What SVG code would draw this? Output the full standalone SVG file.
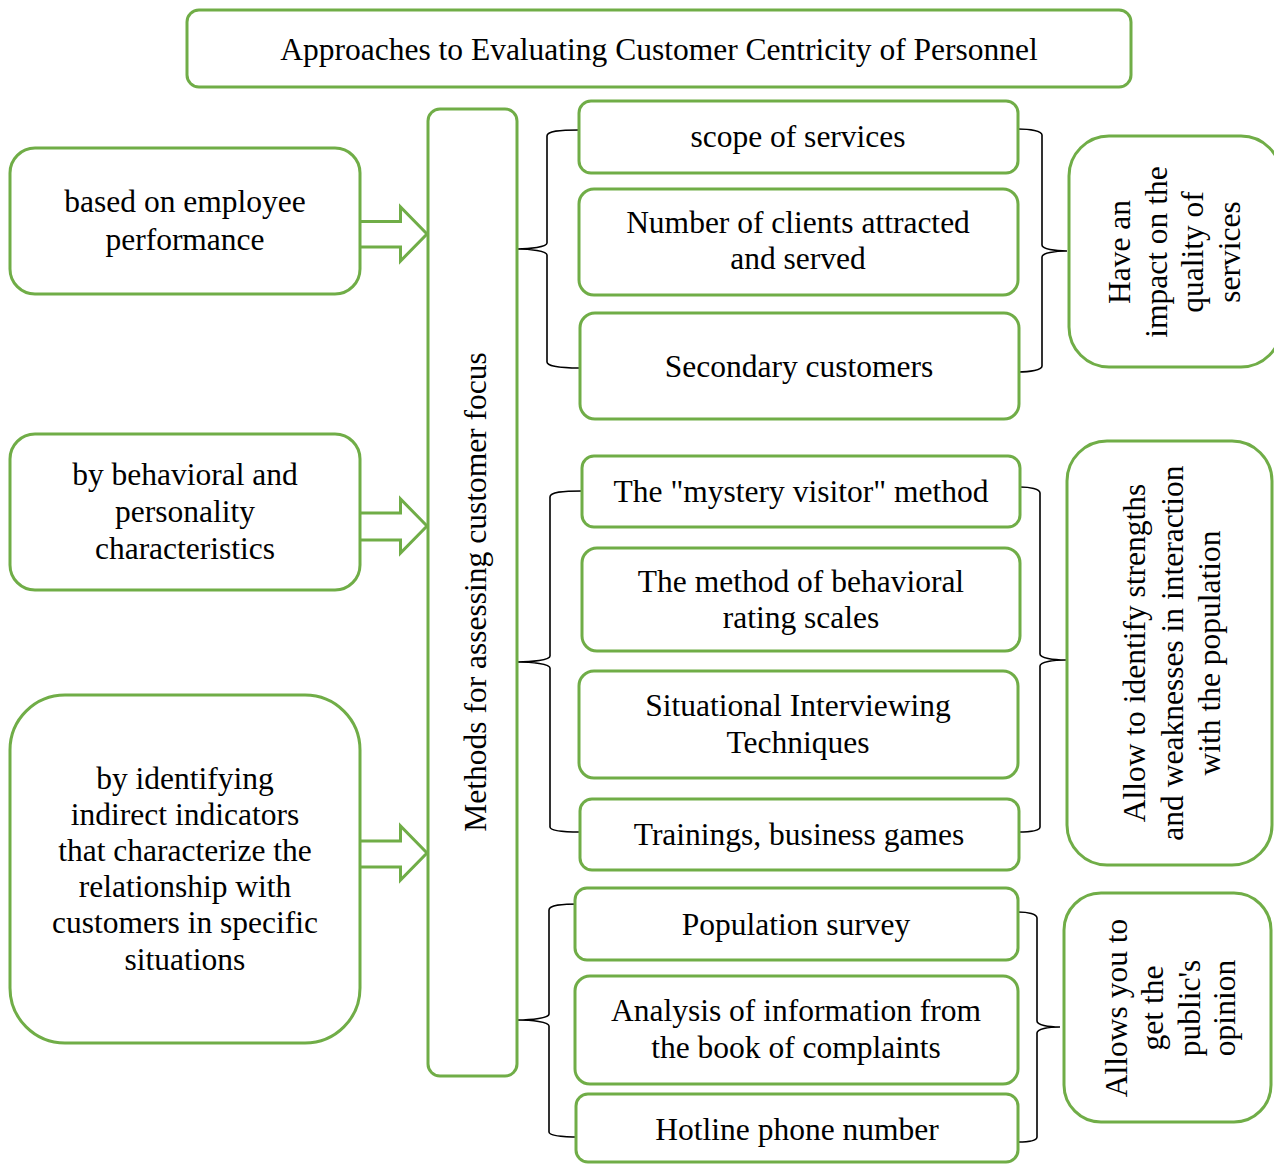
<svg xmlns="http://www.w3.org/2000/svg" width="1274" height="1164" viewBox="0 0 1274 1164">
<style>
.box{fill:#fff;stroke:#70AD47;stroke-width:3}
.arr{fill:#fff;stroke:#70AD47;stroke-width:3;stroke-linejoin:miter}
.br{fill:none;stroke:#000;stroke-width:1.6}
text{font-family:"Liberation Serif","Times New Roman",serif;font-size:31.5px;fill:#000;text-anchor:middle}
</style>
<rect width="1274" height="1164" fill="#fff"/>
<g id="connectors">
<path class="br" d="M579,130 C560,130 547,131 547,136 L547,243 C547,247 530,249 517,249 C530,249 547,251 547,255 L547,362 C547,366 560,368 579,368"/>
<path class="br" d="M1018,129 C1030,129 1042,131 1042,135 L1042,245 C1042,249 1055,251 1067,251 C1055,251 1042,253 1042,257 L1042,366 C1042,370 1030,372 1018,372"/>
<path class="br" d="M582,491 C563,491 550,492 550,497 L550,656 C550,660 532,662 517,662 C532,662 550,664 550,668 L550,827 C550,831 563,832 580,832"/>
<path class="br" d="M1020,487 C1030,487 1040,489 1040,493 L1040,654 C1040,658 1053,660 1066,660 C1053,660 1040,662 1040,666 L1040,827 C1040,831 1030,832 1018,832"/>
<path class="br" d="M580,904 C562,904 549,905 549,910 L549,1014 C549,1018 532,1020 517,1020 C532,1020 549,1022 549,1026 L549,1132 C549,1136 562,1137 580,1137"/>
<path class="br" d="M1018,912 C1028,912 1037,914 1037,918 L1037,1021 C1037,1025 1048,1027 1060,1027 C1048,1027 1037,1029 1037,1033 L1037,1137 C1037,1141 1028,1142 1018,1142"/>
<polyline class="arr" points="359,221.5 400.5,221.5 400.5,207 427,234 400.5,261 400.5,247 359,247"/>
<polyline class="arr" points="359,513 400.5,513 400.5,499 427,526 400.5,553 400.5,540 359,540"/>
<polyline class="arr" points="359,841 400.5,841 400.5,826 427,853 400.5,880 400.5,867 359,867"/>
</g>
<g id="title"><rect class="box" x="187" y="10" width="944" height="77" rx="12"/><text x="659" y="60">Approaches to Evaluating Customer Centricity of Personnel</text></g>
<g id="left1"><rect class="box" x="10" y="148" width="350" height="146" rx="25"/><text x="185" y="212">based on employee</text><text x="185" y="250">performance</text></g>
<g id="left2"><rect class="box" x="10" y="434" width="350" height="156" rx="25"/><text x="185" y="485">by behavioral and</text><text x="185" y="522">personality</text><text x="185" y="559">characteristics</text></g>
<g id="left3"><rect class="box" x="10" y="695" width="350" height="348" rx="55"/><text x="185" y="789">by identifying</text><text x="185" y="825">indirect indicators</text><text x="185" y="861">that characterize the</text><text x="185" y="897">relationship with</text><text x="185" y="933">customers in specific</text><text x="185" y="970">situations</text></g>
<g id="center"><rect class="box" x="428" y="109" width="89" height="967" rx="12"/><text transform="translate(486,592) rotate(-90)">Methods for assessing customer focus</text></g>
<g id="m1"><rect class="box" x="579" y="101" width="439" height="72" rx="12"/><text x="798" y="147">scope of services</text></g>
<g id="m2"><rect class="box" x="579" y="189" width="439" height="106" rx="15"/><text x="798" y="233">Number of clients attracted</text><text x="798" y="269">and served</text></g>
<g id="m3"><rect class="box" x="580" y="313" width="439" height="106" rx="15"/><text x="799" y="377">Secondary customers</text></g>
<g id="m4"><rect class="box" x="582" y="456" width="438" height="71" rx="12"/><text x="801" y="502">The "mystery visitor" method</text></g>
<g id="m5"><rect class="box" x="582" y="548" width="438" height="103" rx="15"/><text x="801" y="592">The method of behavioral</text><text x="801" y="628">rating scales</text></g>
<g id="m6"><rect class="box" x="579" y="671" width="439" height="107" rx="15"/><text x="798" y="716">Situational Interviewing</text><text x="798" y="753">Techniques</text></g>
<g id="m7"><rect class="box" x="580" y="799" width="439" height="71" rx="12"/><text x="799" y="845">Trainings, business games</text></g>
<g id="m8"><rect class="box" x="575" y="888" width="443" height="72" rx="12"/><text x="796" y="935">Population survey</text></g>
<g id="m9"><rect class="box" x="575" y="976" width="443" height="108" rx="15"/><text x="796" y="1021">Analysis of information from</text><text x="796" y="1058">the book of complaints</text></g>
<g id="m10"><rect class="box" x="576" y="1094" width="442" height="68" rx="12"/><text x="797" y="1140">Hotline phone number</text></g>
<g id="r1"><rect class="box" x="1069" y="136" width="212" height="231" rx="40"/><text transform="translate(1130,252) rotate(-90)"><tspan x="0" y="0">Have an</tspan><tspan x="0" y="37">impact on the</tspan><tspan x="0" y="73">quality of</tspan><tspan x="0" y="110">services</tspan></text></g>
<g id="r2"><rect class="box" x="1067" y="441" width="205" height="424" rx="40"/><text transform="translate(1145,653) rotate(-90)"><tspan x="0" y="0">Allow to identify strengths</tspan><tspan x="0" y="38">and weaknesses in interaction</tspan><tspan x="0" y="75">with the population</tspan></text></g>
<g id="r3"><rect class="box" x="1064" y="893" width="207" height="229" rx="37"/><text transform="translate(1127,1008) rotate(-90)"><tspan x="0" y="0">Allows you to</tspan><tspan x="0" y="36">get the</tspan><tspan x="0" y="73">public's</tspan><tspan x="0" y="108">opinion</tspan></text></g>
</svg>
